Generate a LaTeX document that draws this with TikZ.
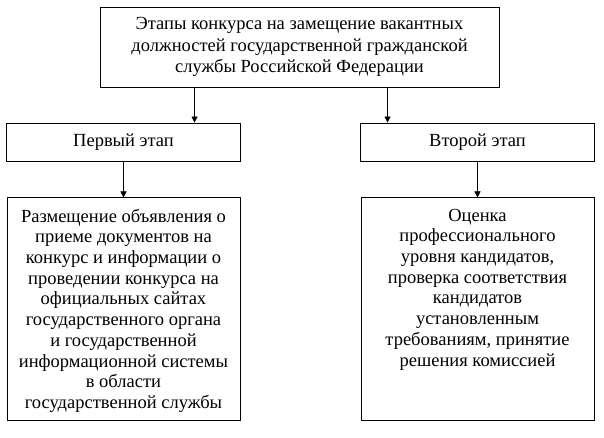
\documentclass[tikz,border=0pt]{standalone}
\usepackage{fontspec}
\setmainfont{Liberation Serif}
\usetikzlibrary{positioning,arrows.meta}
\newcommand{\toptext}[1]{\parbox[c][201pt][t]{228pt}{\centering #1}}

\begin{document}
\begin{tikzpicture}[>={Triangle[length=6pt,width=6pt]},
  box/.style={draw,line width=0.9pt,align=center,inner sep=0pt,
              font=\fontsize{18.5}{21.5}\selectfont},
  head/.style={box,minimum width=399pt,minimum height=80pt},
  stage/.style={box,minimum width=234pt,minimum height=38pt},
  ebox/.style={box,minimum width=233pt,minimum height=223pt,
               font=\fontsize{18.5}{20.7}\selectfont}]
\useasboundingbox (0,0) rectangle (604pt,-437pt);
\node[head] (head) at (299.5pt,-47pt) {Этапы конкурса на замещение вакантных\\
  должностей государственной гражданской\\службы Российской Федерации};
\node[stage] (first) at (123.5pt,-142pt) {Первый этап};
\node[stage] (second) at (477.5pt,-142pt) {Второй этап};
\node[ebox,below=36pt of first] (post) {\toptext{Размещение объявления о\\
  приеме документов на\\конкурс и информации о\\проведении конкурса на\\
  официальных сайтах\\государственного органа\\и государственной\\
  информационной системы\\в области\\государственной службы}};
\node[ebox,below=36pt of second] (assess) {\toptext{Оценка\\
  профессионального\\уровня кандидатов,\\проверка соответствия\\
  кандидатов\\установленным\\требованиям, принятие\\решения комиссией}};
\draw[->] ([xshift=95pt]head.south west) coordinate (h1) -- (h1 |- first.north);
\draw[->] ([xshift=288pt]head.south west) coordinate (h2) -- (h2 |- second.north);
\draw[->] (first) -- (post);
\draw[->] (second) -- (assess);
\end{tikzpicture}
\end{document}
